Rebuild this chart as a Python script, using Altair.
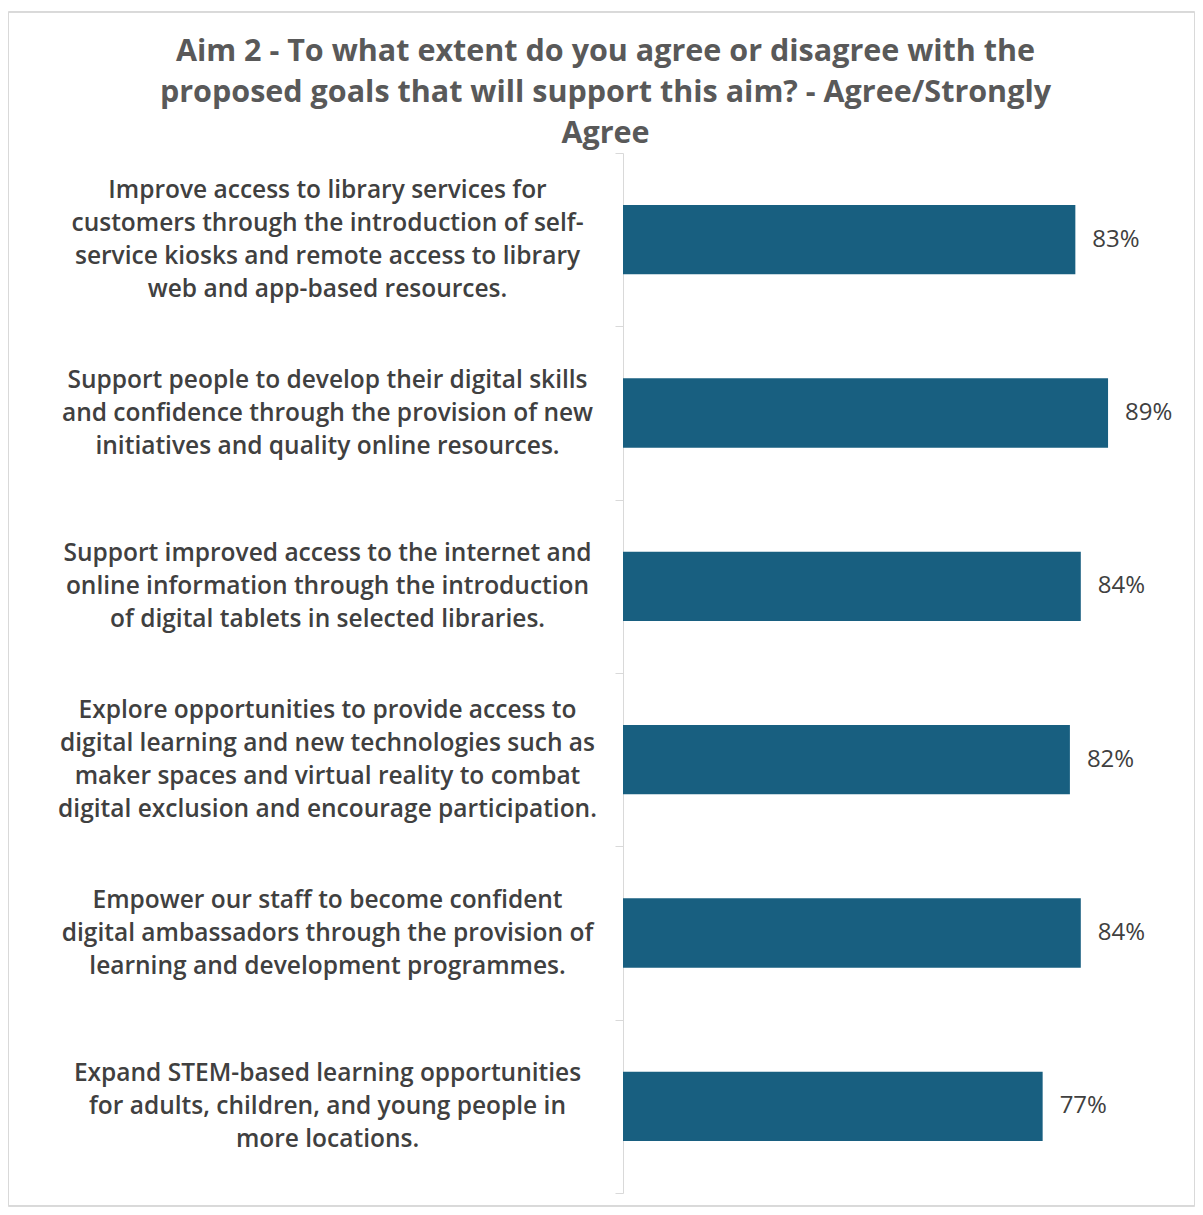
import altair as alt
import pandas as pd

goal_lines = [
    ["Improve access to library services for",
     "customers through the introduction of self-",
     "service kiosks and remote access to library",
     "web and app-based resources."],
    ["Support people to develop their digital skills",
     "and confidence through the provision of new",
     "initiatives and quality online resources."],
    ["Support improved access to the internet and",
     "online information through the introduction",
     "of digital tablets in selected libraries."],
    ["Explore opportunities to provide access to",
     "digital learning and new technologies such as",
     "maker spaces and virtual reality to combat",
     "digital exclusion and encourage participation."],
    ["Empower our staff to become confident",
     "digital ambassadors through the provision of",
     "learning and development programmes."],
    ["Expand STEM-based learning opportunities",
     "for adults, children, and young people in",
     "more locations."],
]
values = [0.83, 0.89, 0.84, 0.82, 0.84, 0.77]

title_lines = [
    "Aim 2 - To what extent do you agree or disagree with the",
    "proposed goals that will support this aim? - Agree/Strongly",
    "Agree",
]

df = pd.DataFrame({"goal": ["|".join(g) for g in goal_lines], "value": values})

FONT = "Open Sans"
LINE_H = 33

y_enc = alt.Y(
    "goal:N",
    sort=None,
    scale=alt.Scale(paddingInner=0, paddingOuter=0),
    axis=alt.Axis(
        title=None,
        labelExpr="split(datum.label, '|')",
        labelAlign="center",
        labelBaseline="middle",
        labelPadding=288,
        labelOffset={"expr": f"-(length(split(datum.value, '|')) - 1) * {LINE_H} / 2"},
        labelFontSize=24.5,
        labelFontWeight=600,
        labelLineHeight=LINE_H,
        labelColor="#404040",
        labelFont=FONT,
        labelLimit=700,
        domainColor="#d9d9d9",
        tickColor="#d9d9d9",
        tickSize=8,
        tickBand="extent",
    ),
)
x_enc = alt.X("value:Q", scale=alt.Scale(domain=[0, 1]), axis=None)

bars = alt.Chart(df).mark_bar(color="#185f80", height={"band": 0.4}).encode(x=x_enc, y=y_enc)
labels = alt.Chart(df).mark_text(
    align="left", baseline="middle", dx=17, fontSize=24, font=FONT, color="#404040"
).encode(x=x_enc, y=alt.Y("goal:N", sort=None), text=alt.Text("value:Q", format=".0%"))

border = alt.Chart(df).mark_rect(
    fill=None, stroke="#d9d9d9", strokeWidth=1
).encode(
    x=alt.value(-614.5), x2=alt.value(571.5), y=alt.value(-141), y2=alt.value(1053)
)

chart = (
    alt.layer(bars, labels, border)
    .properties(
        width=545,
        height=1040,
        background="white",
        padding={"left": 615, "top": 145, "right": 27, "bottom": 14},
        autosize=alt.AutoSizeParams(type="none"),
        title=alt.TitleParams(
            text=title_lines,
            anchor="middle",
            dx=-290,
            fontSize=30.5,
            lineHeight=41,
            font=FONT,
            fontWeight="bold",
            color="#595959",
            offset=-138,
        ),
    )
    .configure_view(stroke="transparent", strokeWidth=0)
)

chart.save("out.html", embed_options={"renderer": "svg", "actions": False})
